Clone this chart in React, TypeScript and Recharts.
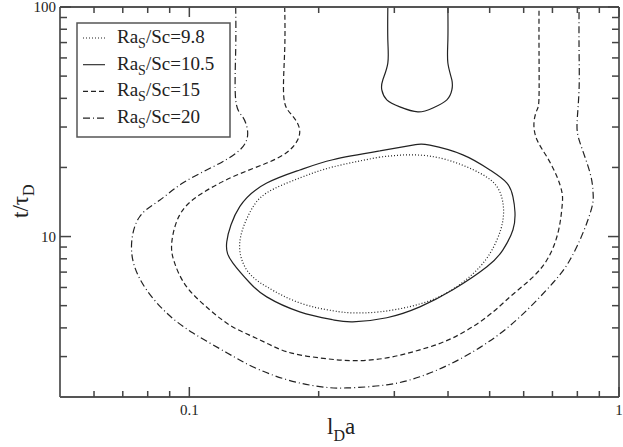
import { ComposedChart, Line, XAxis, YAxis } from "recharts";

const SERIF = "'Liberation Serif', 'Times New Roman', serif";
const INK = "#222";
const FRAME = "#555";

const X_TICKS = [0.06, 0.07, 0.08, 0.09, 0.1, 0.2, 0.3, 0.4, 0.5, 0.6, 0.7, 0.8, 0.9, 1];
const Y_TICKS = [3, 4, 5, 6, 7, 8, 9, 10, 20, 30, 40, 50, 60, 70, 80, 90, 100];

// Ra_S/Sc = 9.8, closed contour
const RA_9_8: [number, number][] = [
  [0.2775, 22.2], [0.2157, 20.1], [0.1807, 18.0], [0.1514, 15.5], [0.1382, 12.7],
  [0.131, 9.39], [0.136, 7.16], [0.1514, 6.04], [0.1807, 5.14], [0.2157, 4.75],
  [0.2401, 4.65], [0.2775, 4.7], [0.3312, 4.99], [0.3976, 5.69], [0.4745, 7.38],
  [0.5199, 9.67], [0.5369, 11.8], [0.5369, 14.0], [0.5199, 16.5], [0.4745, 18.9],
  [0.3976, 21.6], [0.3312, 22.7], [0.2775, 22.2],
];

// Ra_S/Sc = 10.5, closed contour
const RA_10_5: [number, number][] = [
  [0.2775, 23.6], [0.2157, 21.6], [0.1807, 19.5], [0.1514, 17.1], [0.131, 13.5],
  [0.1222, 9.48], [0.1262, 7.68], [0.1382, 6.29], [0.1514, 5.46], [0.1807, 4.7],
  [0.2157, 4.34], [0.2401, 4.25], [0.2881, 4.43], [0.344, 4.94], [0.4105, 5.86],
  [0.4927, 7.38], [0.5369, 8.75], [0.5665, 10.7], [0.5726, 12.8], [0.5665, 14.9],
  [0.5485, 17.1], [0.5007, 19.5], [0.4331, 22.7], [0.3629, 25.0], [0.3312, 25.0],
  [0.2775, 23.6],
];

// Ra_S/Sc = 10.5, upper branch coming down from the top edge
const RA_10_5_TOP: [number, number][] = [
  [0.2897, 100], [0.2897, 71.8], [0.2897, 57.0], [0.282, 48.1], [0.2805, 43.5],
  [0.2881, 39.4], [0.309, 36.7], [0.3403, 34.9], [0.3688, 36.3], [0.3976, 39.4],
  [0.4083, 43.5], [0.4083, 48.1], [0.3997, 57.0], [0.3997, 71.8], [0.3997, 100],
];

// Ra_S/Sc = 15
const RA_15: [number, number][] = [
  [0.1667, 100], [0.1667, 65.0], [0.1659, 40.6], [0.1731, 33.9], [0.1807, 28.6],
  [0.1712, 23.8], [0.1514, 20.9], [0.1262, 18.2], [0.1057, 15.2], [0.0949, 12.4],
  [0.091, 9.39], [0.0924, 7.68], [0.0986, 6.04], [0.1115, 4.8], [0.1262, 4.04],
  [0.1458, 3.55], [0.1685, 3.15], [0.2012, 2.96], [0.2401, 2.88], [0.2881, 2.96],
  [0.344, 3.21], [0.4105, 3.62], [0.4927, 4.47], [0.5574, 5.46], [0.6206, 6.48],
  [0.6799, 7.92], [0.7212, 10.4], [0.737, 13.5], [0.737, 15.5], [0.7174, 18.2],
  [0.6799, 22.2], [0.6443, 26.4], [0.634, 31.3], [0.6443, 35.6], [0.6514, 40.6],
  [0.6514, 65.0], [0.6514, 100],
];

// Ra_S/Sc = 20
const RA_20: [number, number][] = [
  [0.1282, 100], [0.1282, 65.0], [0.1282, 39.4], [0.1331, 33.2], [0.1367, 28.3],
  [0.131, 23.8], [0.1133, 20.1], [0.0965, 17.1], [0.0853, 14.4], [0.0766, 12.2],
  [0.0734, 9.39], [0.0746, 7.38], [0.0795, 5.86], [0.0885, 4.65], [0.1018, 3.81],
  [0.1222, 3.12], [0.1404, 2.71], [0.1685, 2.38], [0.2012, 2.22], [0.2325, 2.19],
  [0.2881, 2.26], [0.344, 2.45], [0.4105, 2.82], [0.4927, 3.44], [0.5881, 4.47],
  [0.7022, 6.29], [0.7692, 7.92], [0.8248, 10.4], [0.8655, 13.5], [0.8703, 15.5],
  [0.8564, 18.9], [0.8116, 25.6], [0.7987, 31.3], [0.8073, 43.5], [0.8073, 65.0],
  [0.8073, 100],
];

const LEGEND_LABELS = ["9.8", "10.5", "15", "20"];
const DASHES = ["1 2", undefined, "5 3", "7 3 1 3"];

const toPts = (arr: [number, number][]) => arr.map(([x, y]) => ({ x, y }));

// the last series is drawn against the mirrored top/right axes (same domains)
const SERIES = [
  { data: toPts(RA_9_8), dash: DASHES[0], mirror: false },
  { data: toPts(RA_10_5), dash: DASHES[1], mirror: false },
  { data: toPts(RA_10_5_TOP), dash: DASHES[1], mirror: false },
  { data: toPts(RA_15), dash: DASHES[2], mirror: false },
  { data: toPts(RA_20), dash: DASHES[3], mirror: true },
];

const isMajor = (v: number) =>
  Math.abs(Math.log10(v) - Math.round(Math.log10(v))) < 1e-6;

// inward tick marks, longer on decades; decade labels on bottom/left only
function renderTick(side: string) {
  return (props: any) => {
    const x = Number(props.x);
    const y = Number(props.y);
    const v = Number(props.payload?.value);
    const major = isMajor(v);
    const len = major ? 10 : 6;
    let d = "";
    if (side === "bottom") d = `M${x},${y}V${y - len}`;
    else if (side === "top") d = `M${x},${y}V${y + len}`;
    else if (side === "left") d = `M${x},${y}H${x + len + 1}`;
    else d = `M${x},${y}H${x - len - 1}`;
    const showLabel = major && (side === "bottom" || side === "left");
    return (
      <g>
        <path d={d} stroke="#444" strokeWidth={1.5} fill="none" />
        {showLabel && side === "bottom" && (
          <text x={x} y={y + 18} textAnchor="middle" fontSize={15} fontFamily={SERIF} fill={INK}>
            {String(v)}
          </text>
        )}
        {showLabel && side === "left" && (
          <text x={x - 4} y={y + 5} textAnchor="end" fontSize={15} fontFamily={SERIF} fill={INK}>
            {String(v)}
          </text>
        )}
      </g>
    );
  };
}

function Overlay() {
  return (
    <svg width={623} height={447} style={{ position: "absolute", left: 0, top: 0, pointerEvents: "none" }}>
      <text x={327} y={434} fontSize={23} fontFamily={SERIF} fill={INK}>
        l<tspan dy={7} fontSize={16}>D</tspan>
        <tspan dy={-7}>a</tspan>
      </text>
      <text transform="translate(28,218) rotate(-90)" fontSize={23} fontFamily={SERIF} fill={INK}>
        t/τ<tspan dy={6} fontSize={16}>D</tspan>
      </text>
      <g transform="translate(77,23)">
        <rect x={0} y={0} width={153} height={114} fill="#fff" stroke={FRAME} strokeWidth={1.5} />
        {LEGEND_LABELS.map((lab, i) => {
          const base = 20 + i * 26.7;
          return (
            <g key={lab}>
              <line x1={6} x2={28} y1={base - 5} y2={base - 5} stroke={INK} strokeWidth={1.1} strokeDasharray={DASHES[i]} />
              <text x={40} y={base} fontSize={19} fontFamily={SERIF} fill={INK}>
                Ra
                <tspan dy={5} fontSize={14}>S</tspan>
                <tspan dy={-5}>/Sc={lab}</tspan>
              </text>
            </g>
          );
        })}
      </g>
    </svg>
  );
}

export default function App() {
  return (
    <div style={{ position: "absolute", left: 0, top: 0, width: 623, height: 447, background: "#fff" }}>
      <ComposedChart width={623} height={447} margin={{ top: 0, right: 0, left: 0, bottom: 0 }}>
        <XAxis
          dataKey="x"
          type="number"
          scale="log"
          domain={[0.05, 1]}
          allowDataOverflow
          ticks={X_TICKS}
          interval={0}
          height={50}
          tickSize={0}
          tickMargin={0}
          tickLine={false}
          axisLine={{ stroke: FRAME, strokeWidth: 1.8 }}
          tick={renderTick("bottom")}
        />
        <XAxis
          xAxisId="top"
          dataKey="x"
          orientation="top"
          type="number"
          scale="log"
          domain={[0.05, 1]}
          allowDataOverflow
          ticks={X_TICKS}
          interval={0}
          height={7}
          tickSize={0}
          tickMargin={0}
          tickLine={false}
          axisLine={{ stroke: FRAME, strokeWidth: 1.8 }}
          tick={renderTick("top")}
        />
        <YAxis
          type="number"
          scale="log"
          domain={[2, 100]}
          allowDataOverflow
          ticks={Y_TICKS}
          interval={0}
          width={60}
          tickSize={0}
          tickMargin={0}
          tickLine={false}
          axisLine={{ stroke: FRAME, strokeWidth: 1.8 }}
          tick={renderTick("left")}
        />
        <YAxis
          yAxisId="right"
          orientation="right"
          type="number"
          scale="log"
          domain={[2, 100]}
          allowDataOverflow
          ticks={Y_TICKS}
          interval={0}
          width={4}
          tickSize={0}
          tickMargin={0}
          tickLine={false}
          axisLine={{ stroke: FRAME, strokeWidth: 1.8 }}
          tick={renderTick("right")}
        />
        {SERIES.map((s, i) =>
          s.mirror ? (
            <Line
              key={i}
              xAxisId="top"
              yAxisId="right"
              data={s.data}
              dataKey="y"
              type="natural"
              stroke={INK}
              strokeWidth={1.2}
              strokeDasharray={s.dash}
              dot={false}
              activeDot={false}
              isAnimationActive={false}
            />
          ) : (
            <Line
              key={i}
              data={s.data}
              dataKey="y"
              type="natural"
              stroke={INK}
              strokeWidth={1.2}
              strokeDasharray={s.dash}
              dot={false}
              activeDot={false}
              isAnimationActive={false}
            />
          )
        )}
      </ComposedChart>
      <Overlay />
    </div>
  );
}
